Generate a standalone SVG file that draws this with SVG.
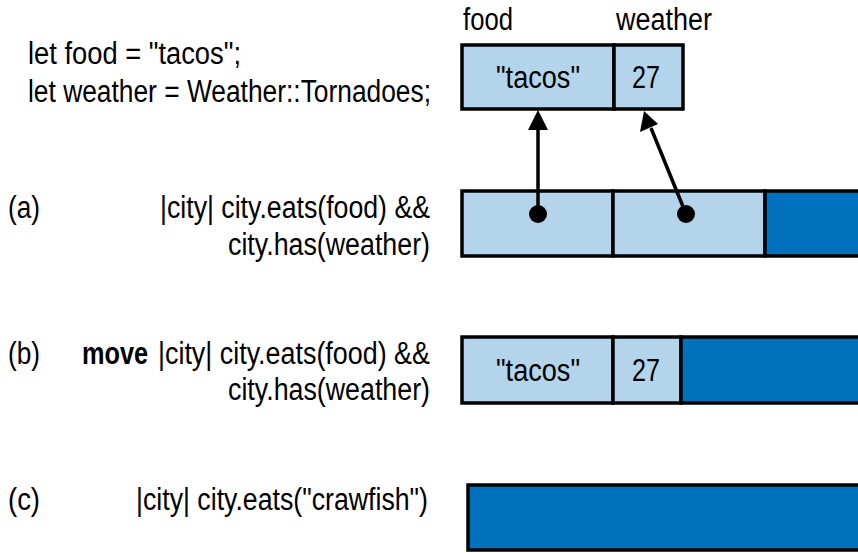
<svg xmlns="http://www.w3.org/2000/svg" width="858" height="553" viewBox="0 0 858 553">
<style>
text{font-family:"Liberation Sans",Arial,sans-serif;font-size:31px;fill:#000}
.b{font-weight:bold}
.lt{fill:#b3d4ea;stroke:#000;stroke-width:3.5}
.dk{fill:#0071bc;stroke:#000;stroke-width:3.5}
.edge{stroke:#000;stroke-width:3.5;fill:none}
.head{fill:#000}
</style>
<g id="code">
<text x="28" y="64" textLength="213" lengthAdjust="spacingAndGlyphs">let food = "tacos";</text>
<text x="28" y="102" textLength="403" lengthAdjust="spacingAndGlyphs">let weather = Weather::Tornadoes;</text>
</g>
<g id="vars">
<text x="463" y="30" textLength="50" lengthAdjust="spacingAndGlyphs">food</text>
<text x="616" y="30" textLength="96" lengthAdjust="spacingAndGlyphs">weather</text>
<rect class="lt" x="462" y="45" width="152" height="64"/>
<rect class="lt" x="614" y="45" width="69" height="64"/>
<text x="496" y="88" textLength="84" lengthAdjust="spacingAndGlyphs">"tacos"</text>
<text x="632" y="88" textLength="28" lengthAdjust="spacingAndGlyphs">27</text>
</g>
<g id="row-a">
<text x="8" y="218" textLength="32" lengthAdjust="spacingAndGlyphs">(a)</text>
<text x="160" y="218" textLength="270" lengthAdjust="spacingAndGlyphs">|city| city.eats(food) &amp;&amp;</text>
<text x="228" y="255" textLength="202" lengthAdjust="spacingAndGlyphs">city.has(weather)</text>
<rect class="lt" x="462" y="191" width="151" height="65"/>
<rect class="lt" x="613" y="191" width="152" height="65"/>
<path class="dk" d="M860 191 H765 V256 H860"/>
<circle cx="538" cy="214" r="9" fill="#000"/>
<circle cx="686" cy="214" r="9" fill="#000"/>
</g>
<g id="row-b">
<text x="8" y="364" textLength="32" lengthAdjust="spacingAndGlyphs">(b)</text>
<text class="b" x="82" y="364" textLength="66" lengthAdjust="spacingAndGlyphs">move</text>
<text x="158" y="364" textLength="272" lengthAdjust="spacingAndGlyphs">|city| city.eats(food) &amp;&amp;</text>
<text x="228" y="400" textLength="202" lengthAdjust="spacingAndGlyphs">city.has(weather)</text>
<rect class="lt" x="462" y="337" width="151" height="66"/>
<rect class="lt" x="613" y="337" width="68" height="66"/>
<path class="dk" d="M860 337 H681 V403 H860"/>
<text x="496" y="381" textLength="84" lengthAdjust="spacingAndGlyphs">"tacos"</text>
<text x="632" y="381" textLength="28" lengthAdjust="spacingAndGlyphs">27</text>
</g>
<g id="row-c">
<text x="8" y="510" textLength="32" lengthAdjust="spacingAndGlyphs">(c)</text>
<text x="136" y="510" textLength="292" lengthAdjust="spacingAndGlyphs">|city| city.eats("crawfish")</text>
<path class="dk" d="M860 485 H468 V550 H860"/>
</g>
<g id="connectors">
<line class="edge" x1="538" y1="214" x2="538" y2="128"/>
<polygon class="head" points="538,110 528,130 548,130"/>
<line class="edge" x1="686" y1="214" x2="651" y2="128"/>
<polygon class="head" points="644,111 640,132 658,124"/>
</g>
</svg>
